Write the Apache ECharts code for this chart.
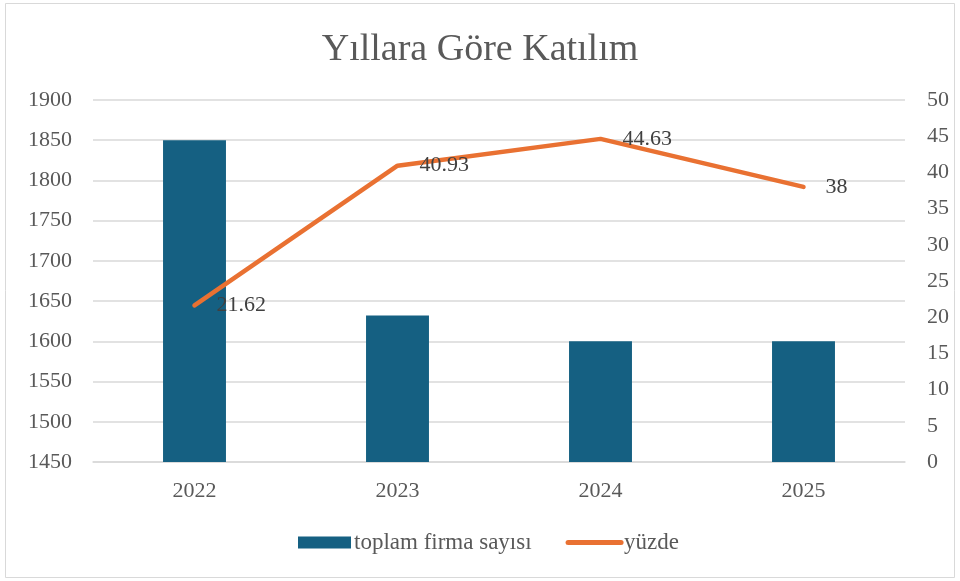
<!DOCTYPE html>
<html>
<head>
<meta charset="utf-8">
<script src="https://cdn.jsdelivr.net/npm/echarts@6/dist/echarts.min.js"></script>
<style>
  html, body { margin: 0; padding: 0; background: #fff; }
  #chart { width: 960px; height: 581px; }
</style>
</head>
<body>
<div id="chart"></div>
<script>
const years = ['2022', '2023', '2024', '2025']
const firmCount = [1850, 1632, 1600, 1600]
const percent = [21.62, 40.93, 44.63, 38]

const font = 'Liberation Serif, Times New Roman, serif'
const chart = echarts.init(document.getElementById('chart'))

chart.setOption({
  backgroundColor: '#fff',
  animation: false,
  graphic: [{
    type: 'rect',
    shape: { x: 5.5, y: 3.5, width: 949, height: 574 },
    style: { fill: 'none', stroke: '#d9d9d9', lineWidth: 1 }
  }],
  title: {
    text: 'Yıllara Göre Katılım',
    left: 'center',
    top: 26,
    textStyle: { fontFamily: font, fontSize: 38, fontWeight: 'normal', color: '#595959' }
  },
  legend: {
    bottom: 22,
    left: 293,
    itemGap: 34,
    itemWidth: 53,
    itemHeight: 12,
    textStyle: { fontFamily: font, fontSize: 23, color: '#595959', padding: [0, 0, 0, -2] },
    data: [
      { name: 'toplam firma sayısı', icon: 'rect' },
      { name: 'yüzde', itemStyle: { opacity: 0 }, lineStyle: { width: 5, cap: 'round' } }
    ]
  },
  grid: { left: 93, right: 55, top: 100, bottom: 119 },
  xAxis: {
    type: 'category',
    data: years,
    axisTick: { show: false },
    axisLine: { lineStyle: { color: '#d9d9d9', width: 1.5 } },
    axisLabel: { fontFamily: font, fontSize: 22, color: '#595959', margin: 18 }
  },
  yAxis: [
    {
      type: 'value',
      min: 1450,
      max: 1900,
      interval: 50,
      axisLine: { show: false },
      axisTick: { show: false },
      axisLabel: { fontFamily: font, fontSize: 22, color: '#595959', margin: 21, formatter: v => String(v) },
      splitLine: { lineStyle: { color: '#d9d9d9', width: 1.5 } }
    },
    {
      type: 'value',
      min: 0,
      max: 50,
      interval: 5,
      axisLine: { show: false },
      axisTick: { show: false },
      axisLabel: { fontFamily: font, fontSize: 22, color: '#595959', margin: 22 },
      splitLine: { show: false }
    }
  ],
  series: [
    {
      name: 'toplam firma sayısı',
      type: 'bar',
      data: firmCount,
      barWidth: '31%',
      itemStyle: { color: '#156082' }
    },
    {
      name: 'yüzde',
      type: 'line',
      yAxisIndex: 1,
      data: percent,
      symbol: 'circle',
      symbolSize: 0.1,
      lineStyle: { color: '#e97132', width: 4.5, cap: 'round', join: 'round' },
      itemStyle: { color: '#e97132' },
      label: {
        show: true,
        position: 'right',
        distance: 22,
        fontFamily: font,
        fontSize: 22,
        color: '#404040'
      }
    }
  ]
})
</script>
</body>
</html>
